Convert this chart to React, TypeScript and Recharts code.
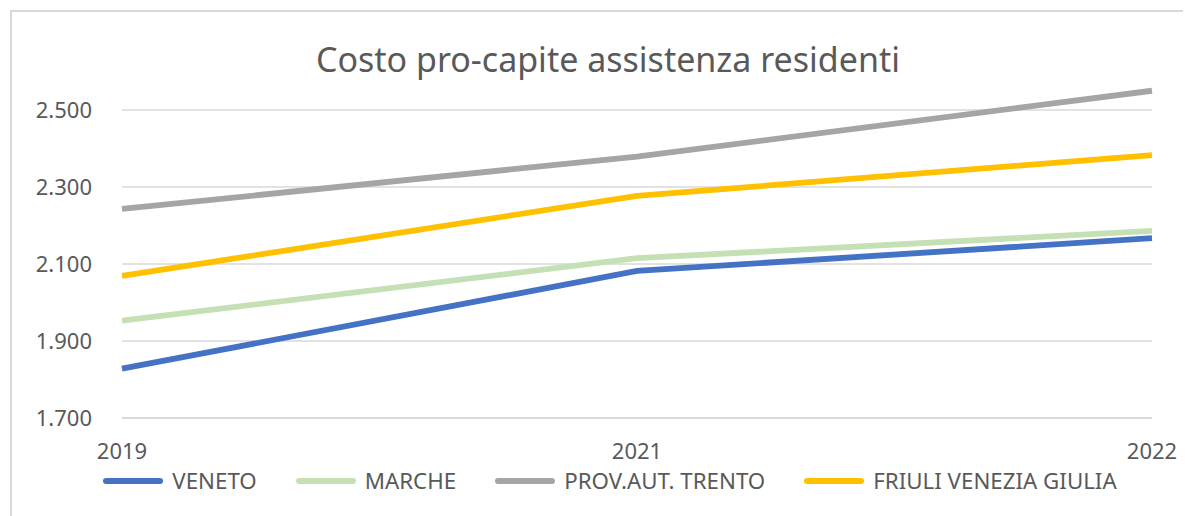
import React from 'react';
import { LineChart, Line, XAxis, YAxis, CartesianGrid, Legend } from 'recharts';

// values
const years = ['2019', '2021', '2022'];
const veneto = [1828, 2082, 2167];
const marche = [1953, 2115, 2186];
const trento = [2243, 2379, 2550];
const friuli = [2069, 2277, 2383];
const yTicks = [1700, 1900, 2100, 2300, 2500];

const seriesInfo = [
  { key: 'veneto', name: 'VENETO', color: '#4472C4' },
  { key: 'marche', name: 'MARCHE', color: '#C5E0B4' },
  { key: 'trento', name: 'PROV.AUT. TRENTO', color: '#A5A5A5' },
  { key: 'friuli', name: 'FRIULI VENEZIA GIULIA', color: '#FFC000' },
];

const chartData = years.map((year, i) => ({
  year,
  veneto: veneto[i],
  marche: marche[i],
  trento: trento[i],
  friuli: friuli[i],
}));

const textColor = '#595959';
const font = '"Noto Sans", sans-serif';

const formatIt = (v: number) => {
  const th = Math.floor(v / 1000);
  const rest = String(v % 1000).padStart(3, '0');
  return th > 0 ? `${th}.${rest}` : String(v);
};

const LegendContent = () => (
  <div
    style={{
      height: 44,
      display: 'flex',
      justifyContent: 'center',
      alignItems: 'flex-start',
      paddingTop: 3,
      boxSizing: 'border-box',
      fontFamily: font,
      fontSize: 22.3,
      color: textColor,
    }}
  >
    {seriesInfo.map((s, i) => (
      <div
        key={s.key}
        style={{ display: 'flex', alignItems: 'center', marginRight: i < seriesInfo.length - 1 ? 39 : 0 }}
      >
        <span
          style={{ display: 'inline-block', width: 60, height: 6, borderRadius: 3, background: s.color, marginRight: 9 }}
        />
        <span style={{ lineHeight: '28px' }}>{s.name}</span>
      </div>
    ))}
  </div>
);

const App = () => {
  return (
    <div style={{ position: 'relative', width: 1183, height: 508, overflow: 'hidden', background: '#fff' }}>
      <div
        style={{
          position: 'absolute',
          left: 2,
          top: 2,
          width: 1220,
          height: 540,
          border: '2px solid #d9d9d9',
        }}
      />
      <div
        style={{
          position: 'absolute',
          left: 0,
          top: 28,
          width: 1200,
          textAlign: 'center',
          fontFamily: font,
          fontSize: 34,
          lineHeight: '46px',
          color: textColor,
        }}
      >
        Costo pro-capite assistenza residenti
      </div>
      <div style={{ position: 'absolute', left: 0, top: 0 }}>
        <LineChart width={1183} height={500} data={chartData} margin={{ top: 25, right: 39, bottom: 0, left: 0 }}>
          <CartesianGrid horizontal vertical={false} horizontalValues={yTicks} stroke="#d9d9d9" strokeWidth={1.5} />
          <XAxis
            dataKey="year"
            height={46}
            axisLine={{ stroke: '#d9d9d9', strokeWidth: 1.5 }}
            tickLine={false}
            tickSize={0}
            tickMargin={25}
            tick={{ fill: textColor, fontSize: 22, fontFamily: font }}
          />
          <YAxis
            width={114}
            domain={[1700, 2700]}
            ticks={yTicks}
            axisLine={false}
            tickLine={false}
            tickSize={0}
            tickMargin={30}
            tickFormatter={formatIt}
            tick={{ fill: textColor, fontSize: 22, fontFamily: font }}
          />
          <Legend
            verticalAlign="bottom"
            wrapperStyle={{ left: 0, width: 1204 }}
            content={<LegendContent />}
          />
          {seriesInfo.map((s) => (
            <Line
              key={s.key}
              type="linear"
              dataKey={s.key}
              name={s.name}
              stroke={s.color}
              strokeWidth={5.8}
              dot={false}
              activeDot={false}
              isAnimationActive={false}
            />
          ))}
        </LineChart>
      </div>
    </div>
  );
};

export default App;
